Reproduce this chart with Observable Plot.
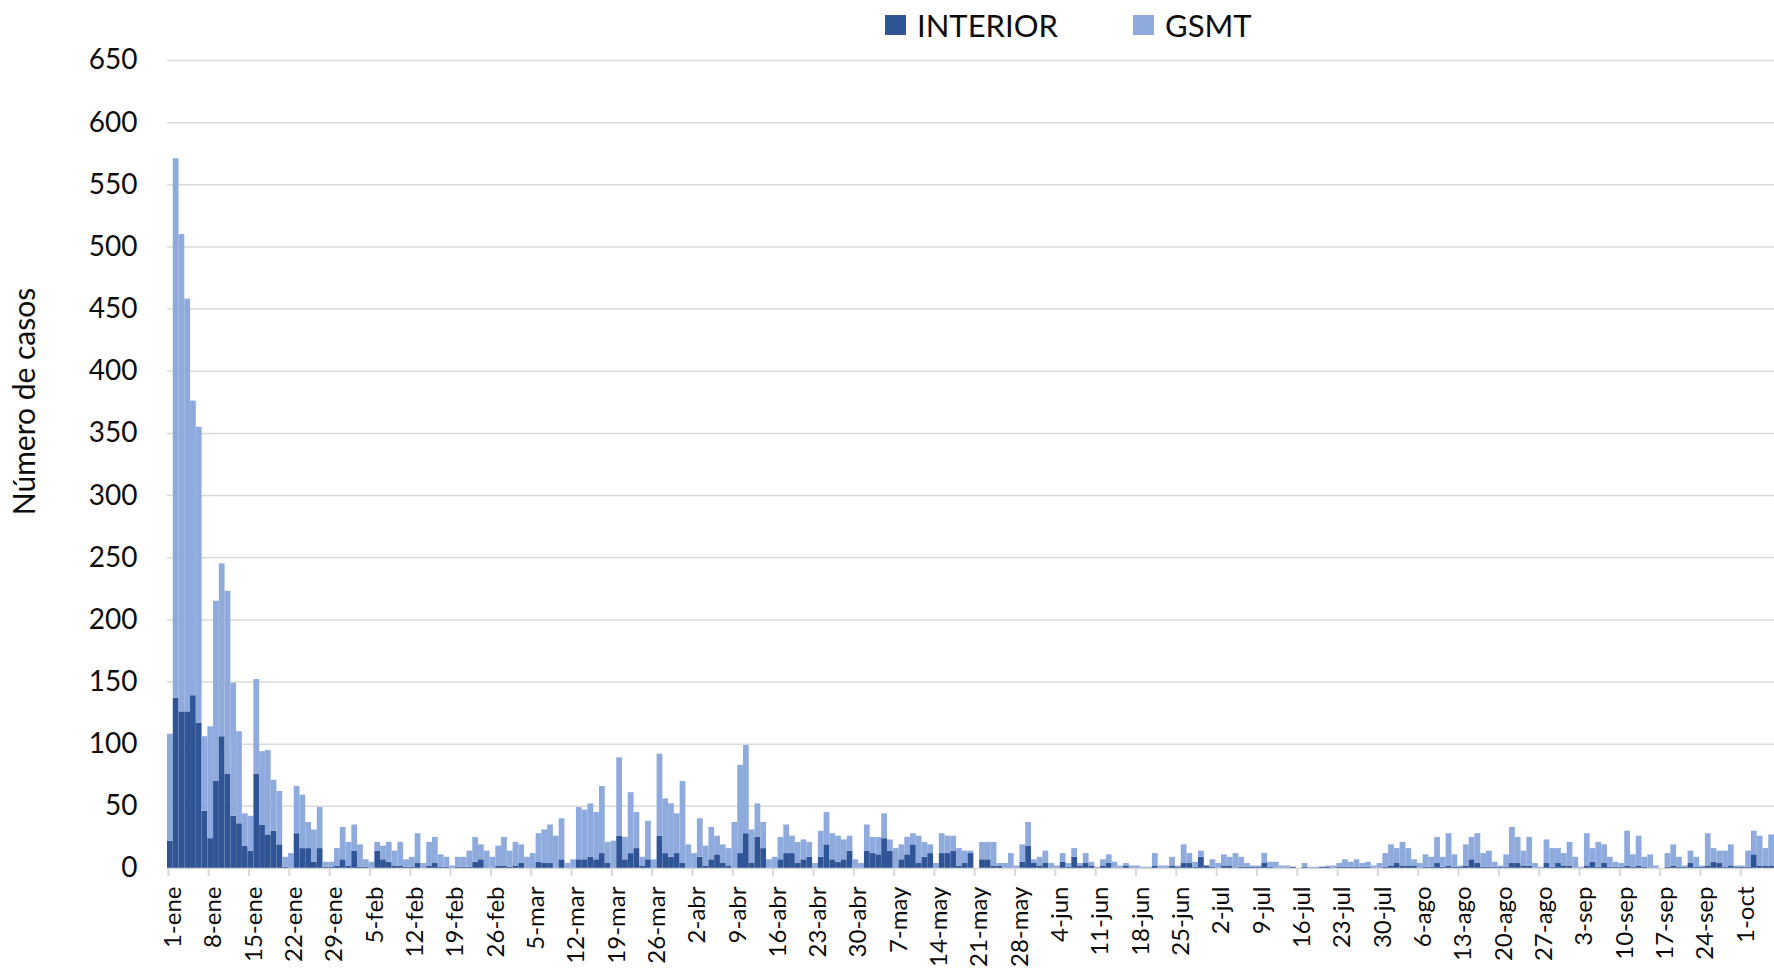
<!DOCTYPE html>
<html>
<head>
<meta charset="utf-8">
<script src="https://cdn.jsdelivr.net/npm/d3@7"></script>
<script src="https://cdn.jsdelivr.net/npm/@observablehq/plot@0.6"></script>
<style>
  html, body { margin: 0; padding: 0; background: #fff; }
  #wrap { position: relative; width: 1774px; height: 970px; overflow: hidden; font-family: Lato, "Open Sans", sans-serif; color: #0d0d0d; }
  #chart { position: absolute; left: 0; top: 0; }
  .lg-sw { position: absolute; width: 21px; height: 20px; }
  .lg-tx { position: absolute; font-size: 31px; line-height: 31px; white-space: nowrap; }
</style>
</head>
<body>
<div id="wrap">
  <div id="chart"></div>
  <div id="legend"></div>
</div>
<script>
// Series names and colours
const series = ["INTERIOR", "GSMT"];
const colors = ["#2F5597", "#8FAADC"];

// Daily cases from 1-ene (index 0) to 7-oct (index 278)
const interior = [
  22,137,126,126,139,117,46,24,70,106,
  76,42,36,18,14,76,35,27,30,19,
  1,0,28,16,16,5,16,1,1,2,
  7,2,14,1,1,0,14,7,5,2,
  2,1,1,4,0,2,4,1,1,0,
  1,1,1,5,7,0,0,2,2,1,
  2,4,0,0,5,4,4,0,7,0,
  0,7,7,9,7,12,4,0,26,7,
  12,16,2,7,0,26,12,9,12,4,
  0,0,9,2,7,11,4,2,0,12,
  28,4,25,16,0,0,7,12,12,4,
  7,9,0,9,19,7,5,7,14,0,
  0,14,12,11,24,14,0,7,11,19,
  4,9,12,0,12,12,14,2,4,12,
  0,7,7,2,2,0,0,0,5,18,
  4,2,4,0,0,5,1,9,2,4,
  2,0,2,4,0,0,2,0,0,0,
  0,2,0,0,2,1,4,4,1,9,
  2,1,0,2,2,0,1,1,1,1,
  4,1,0,0,0,1,0,1,0,0,
  1,1,0,1,1,1,1,1,1,0,
  0,1,2,4,2,2,2,0,1,1,
  4,1,2,1,1,2,7,4,1,1,
  1,1,1,4,4,2,2,0,0,4,
  1,4,2,2,0,0,2,5,1,4,
  1,1,1,2,1,2,1,0,0,0,
  1,2,1,1,4,1,1,2,5,4,
  1,2,1,1,1,11,2,2,2
];
const gsmt = [
  86,434,384,332,237,238,60,90,145,139,
  147,107,74,26,28,76,59,68,41,43,
  8,12,38,43,21,26,33,4,4,14,
  26,19,21,18,6,5,7,11,16,12,
  19,6,8,24,4,19,21,10,8,2,
  8,8,13,20,12,14,9,16,23,13,
  19,15,9,12,23,27,31,26,33,4,
  7,42,40,43,38,54,17,22,63,18,
  49,29,7,31,7,66,44,43,32,66,
  19,12,31,16,26,15,15,14,37,71,
  71,27,27,21,7,9,18,23,14,17,
  16,12,4,21,26,21,21,16,12,7,
  4,21,13,14,20,9,16,12,14,9,
  22,12,7,4,16,14,12,14,10,2,
  0,14,14,19,2,4,12,2,14,19,
  3,7,10,4,2,7,3,7,2,8,
  3,1,5,7,5,2,2,2,2,1,
  1,10,2,2,7,1,15,8,4,5,
  0,6,4,9,7,12,8,3,1,1,
  8,4,5,2,2,0,0,3,1,1,
  0,1,2,3,6,4,6,3,4,2,
  4,11,17,12,19,14,5,4,10,8,
  21,8,26,10,1,17,18,24,11,13,
  4,1,10,29,21,12,23,4,1,19,
  15,12,10,19,9,1,26,11,20,15,
  8,4,3,28,10,24,8,11,2,0,
  11,17,8,1,10,8,1,26,11,10,
  13,17,1,1,13,19,24,14,25
];

// Weekly tick labels (every 7 days starting at index 0)
const tickLabels = ["1-ene","8-ene","15-ene","22-ene","29-ene","5-feb","12-feb","19-feb","26-feb",
  "5-mar","12-mar","19-mar","26-mar","2-abr","9-abr","16-abr","23-abr","30-abr","7-may","14-may",
  "21-may","28-may","4-jun","11-jun","18-jun","25-jun","2-jul","9-jul","16-jul","23-jul","30-jul",
  "6-ago","13-ago","20-ago","27-ago","3-sep","10-sep","17-sep","24-sep","1-oct"];
const yTicks = [0,50,100,150,200,250,300,350,400,450,500,550,600,650];
const yTitle = "Número de casos";

const N = interior.length;
const days = d3.range(N);
const tickDays = tickLabels.map((_, i) => i * 7);

const rows = [];
days.forEach(i => {
  rows.push({day: i, serie: series[0], value: interior[i]});
  rows.push({day: i, serie: series[1], value: gsmt[i]});
});

const chart = Plot.plot({
  width: 1774,
  height: 970,
  marginLeft: 167,
  marginRight: 0,
  marginTop: 60,
  marginBottom: 102,
  style: {fontFamily: "Lato, 'Open Sans', sans-serif", color: "#0d0d0d", background: "#fff", overflow: "visible"},
  x: {type: "band", domain: days, padding: 0, axis: null},
  y: {domain: [0, 650], axis: null},
  color: {domain: series, range: colors},
  marks: [
    Plot.gridY(yTicks.filter(d => d > 0), {stroke: "#d9d9d9", strokeOpacity: 1, strokeWidth: 1.5}),
    Plot.barY(rows, {x: "day", y: "value", fill: "serie", order: series, inset: 0}),
    Plot.ruleY([0], {stroke: "#d9d9d9", strokeWidth: 1.5}),
    Plot.axisY(yTicks, {tickSize: 0, tickPadding: 30, fontSize: 28, label: null}),
    Plot.axisX(tickDays, {tickSize: 8, stroke: "#d9d9d9", strokeWidth: 2, fill: "none", label: null, dx: -2}),
    Plot.axisX(tickDays, {tickSize: 0, tickPadding: 18, tickRotate: -90, fontSize: 24, label: null, dx: 3,
      tickFormat: d => tickLabels[tickDays.indexOf(d)]}),
    Plot.text([yTitle], {frameAnchor: "left", textAnchor: "middle", rotate: -90, dx: -142, dy: -63, fontSize: 30})
  ]
});
document.getElementById("chart").appendChild(chart);

// Legend (HTML, above the plot)
const legendPos = [{sw: 885, tx: 917}, {sw: 1133, tx: 1165}];
const lg = document.getElementById("legend");
series.forEach((s, i) => {
  const sw = document.createElement("div");
  sw.className = "lg-sw";
  sw.style.left = legendPos[i].sw + "px";
  sw.style.top = "15px";
  sw.style.background = colors[i];
  lg.appendChild(sw);
  const tx = document.createElement("div");
  tx.className = "lg-tx";
  tx.style.left = legendPos[i].tx + "px";
  tx.style.top = "10px";
  tx.textContent = s;
  lg.appendChild(tx);
});
</script>
</body>
</html>
